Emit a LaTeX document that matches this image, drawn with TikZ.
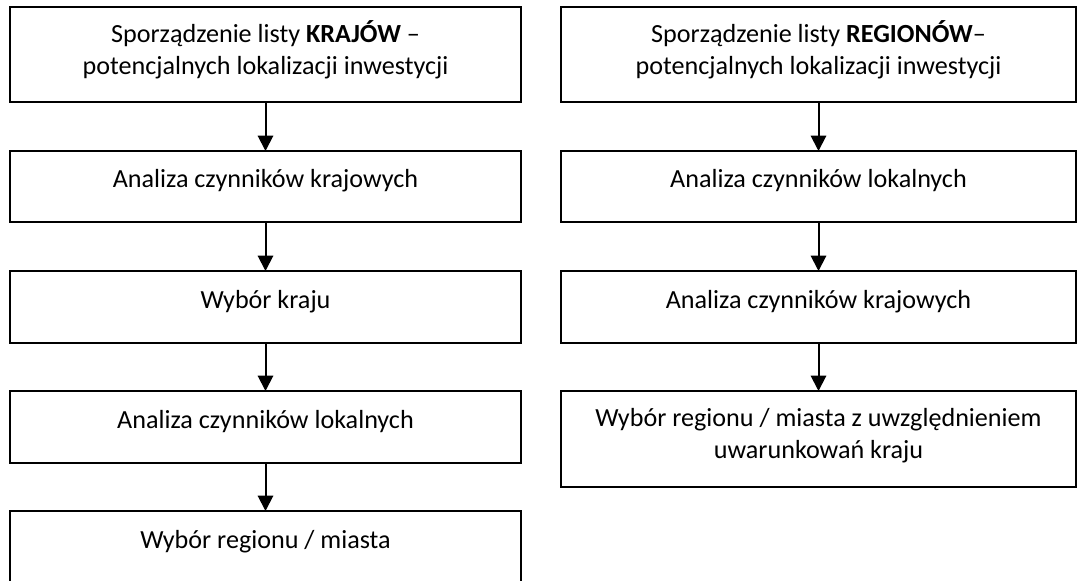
\documentclass[tikz,border=0pt]{standalone}
\usepackage{fontspec}
\setmainfont{Carlito}
\usetikzlibrary{arrows.meta}
\begin{document}
\begin{tikzpicture}[x=0.75pt,y=-0.75pt,
  box/.style={draw, line width=1.5pt, inner sep=0pt, outer sep=0pt, rectangle},
  lbox/.style={box, minimum width=383.25pt},
  rbox/.style={box, minimum width=386.25pt},
  txt/.style={anchor=base, align=center, inner sep=0pt, font=\fontsize{19.6pt}{24pt}\selectfont},
  arr/.style={line width=1.5pt, -{Triangle[width=11.5pt,length=11.5pt]}}]
\clip (0,0) rectangle (1078,581);
% left column
\node[lbox, minimum height=71.25pt] (L1) at (265.5,54.5) {};
\node[lbox, minimum height=53.25pt] (L2) at (265.5,186.5) {};
\node[lbox, minimum height=54pt] (L3) at (265.5,307) {};
\node[lbox, minimum height=54pt] (L4) at (265.5,427) {};
\node[lbox, minimum height=60pt] (L5) at (265.5,551) {};
\node[txt] (tL1) at (265.5,75) {Sporządzenie listy \textbf{KRAJÓW} –\\potencjalnych lokalizacji inwestycji};
\node[txt] (tL2) at (265.5,188) {Analiza czynników krajowych};
\node[txt] (tL3) at (265.5,308) {Wybór kraju};
\node[txt] (tL4) at (265.5,428) {Analiza czynników lokalnych};
\node[txt] (tL5) at (265.5,548) {Wybór regionu / miasta};
\draw[arr] (L1.south) -- (L2.north);
\draw[arr] (L2.south) -- (L3.north);
\draw[arr] (L3.south) -- (L4.north);
\draw[arr] (L4.south) -- (L5.north);
% right column
\node[rbox, minimum height=71.25pt] (R1) at (818.5,54.5) {};
\node[rbox, minimum height=53.25pt] (R2) at (818.5,186.5) {};
\node[rbox, minimum height=54pt] (R3) at (818.5,307) {};
\node[rbox, minimum height=72pt] (R4) at (818.5,439) {};
\node[txt] (tR1) at (818.5,75) {Sporządzenie listy \textbf{REGIONÓW}–\\potencjalnych lokalizacji inwestycji};
\node[txt] (tR2) at (818.5,188) {Analiza czynników lokalnych};
\node[txt] (tR3) at (818.5,308) {Analiza czynników krajowych};
\node[txt] (tR4) at (818.5,458) {Wybór regionu / miasta z uwzględnieniem\\uwarunkowań kraju};
\draw[arr] (R1.south) -- (R2.north);
\draw[arr] (R2.south) -- (R3.north);
\draw[arr] (R3.south) -- (R4.north);
\end{tikzpicture}
\end{document}
